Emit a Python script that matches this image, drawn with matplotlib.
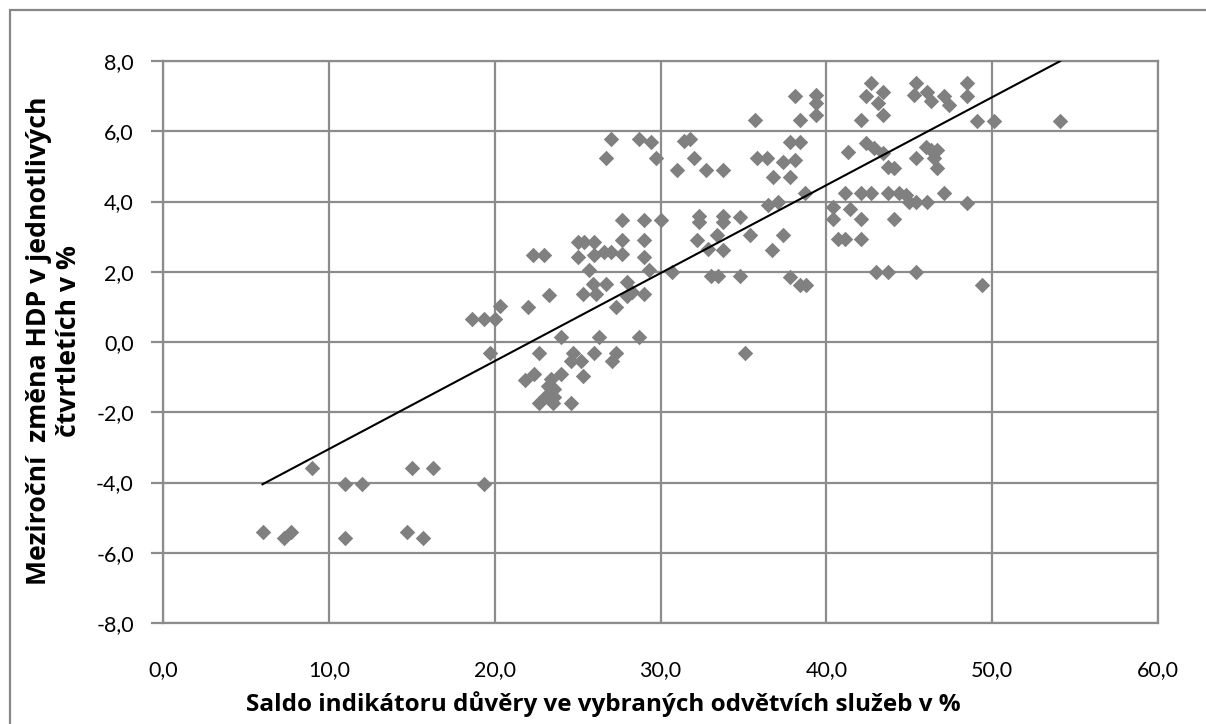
import numpy as np
import matplotlib
matplotlib.use("Agg")
import matplotlib.pyplot as plt
from matplotlib.patches import Rectangle

# saldo of confidence indicator (x, %) vs. y/y GDP change (y, %)
saldo = [
    6.0, 7.3, 7.7, 9.0, 11.0, 12.0, 11.0, 14.7, 15.7, 15.0, 16.3, 19.35,
    18.65, 19.35, 20.0, 20.3, 22.0, 19.7, 22.7, 21.8, 22.35, 24.0, 23.4, 23.2,
    23.6, 23.1, 23.6, 22.7, 23.5, 24.6, 25.3, 24.0, 26.3, 28.7, 24.7, 24.6,
    25.2, 26.0, 27.3, 27.1, 35.1,
    22.3, 23.0, 23.3, 25.0, 25.4, 26.0, 25.0, 26.0, 25.7, 25.9, 26.7, 25.3,
    26.1, 27.3, 28.0, 28.3, 29.0, 28.0, 26.6, 27.0, 27.7, 27.7, 29.0, 29.0,
    29.3, 30.7, 27.7, 29.0, 30.0,
    26.7, 27.0, 28.7, 29.4, 29.7, 31.0, 31.4, 31.8, 32.0, 32.75, 33.75, 35.8,
    36.4,
    32.3, 32.3, 33.75, 33.75, 34.8, 35.4, 32.2, 32.85, 33.4, 33.75, 33.05,
    33.45, 34.8, 37.4, 36.7, 36.5, 37.1, 38.7, 37.8, 38.4, 38.8,
    35.7, 38.1, 39.4, 39.4, 39.4, 38.4, 37.8, 38.4, 37.4, 38.1, 36.8, 37.8,
    40.4, 40.4, 41.4, 42.1, 44.1, 40.7, 41.1, 42.1, 43.0, 43.7, 45.4, 49.4,
    41.1, 42.1, 42.7, 43.7, 44.4, 44.8, 45.0, 45.4, 46.1, 47.1, 48.5,
    41.3, 42.4, 42.9, 43.4, 43.7, 44.1, 45.4, 46.0, 46.3, 46.7, 46.5, 46.7,
    42.7, 43.4, 42.4, 43.1, 43.4, 42.1, 45.4, 45.3, 46.1, 46.3, 47.1, 47.4,
    48.5, 48.5, 49.1, 50.1, 54.1,
]
hdp = [
    -5.4, -5.58, -5.4, -3.6, -4.05, -4.05, -5.58, -5.4, -5.58, -3.6, -3.6, -4.05,
    0.66, 0.66, 0.66, 1.03, 1.0, -0.3, -0.3, -1.08, -0.92, -0.92, -1.06, -1.25,
    -1.35, -1.53, -1.57, -1.75, -1.75, -1.75, -0.96, 0.13, 0.13, 0.13, -0.3, -0.53,
    -0.53, -0.3, -0.3, -0.53, -0.3,
    2.47, 2.47, 1.35, 2.85, 2.85, 2.85, 2.42, 2.47, 2.04, 1.66, 1.66, 1.37,
    1.37, 1.0, 1.32, 1.42, 1.37, 1.7, 2.56, 2.56, 2.51, 2.89, 2.89, 2.42,
    2.04, 1.99, 3.47, 3.47, 3.47,
    5.23, 5.78, 5.78, 5.7, 5.23, 4.9, 5.72, 5.78, 5.23, 4.9, 4.9, 5.23,
    5.23,
    3.6, 3.42, 3.6, 3.42, 3.56, 3.04, 2.89, 2.64, 3.04, 2.61, 1.87,
    1.87, 1.87, 3.04, 2.61, 3.9, 3.99, 4.23, 1.85, 1.61, 1.61,
    6.32, 6.99, 7.04, 6.8, 6.47, 6.32, 5.7, 5.7, 5.13, 5.18, 4.7, 4.7,
    3.85, 3.51, 3.8, 3.51, 3.49, 2.94, 2.94, 2.94, 1.99, 1.99, 1.99, 1.63,
    4.23, 4.23, 4.23, 4.23, 4.23, 4.18, 3.99, 3.99, 3.99, 4.23, 3.95,
    5.42, 5.66, 5.51, 5.37, 4.99, 4.94, 5.23, 5.56, 5.47, 5.47, 5.23, 4.94,
    7.38, 7.13, 6.99, 6.8, 6.47, 6.32, 7.38, 7.04, 7.13, 6.85, 6.99, 6.75,
    7.38, 6.99, 6.28, 6.28, 6.28,
]

x_ticks = [0, 10, 20, 30, 40, 50, 60]
y_ticks = [-8, -6, -4, -2, 0, 2, 4, 6, 8]

x_label = "Saldo indikátoru důvěry ve vybraných odvětvích služeb v %"
y_label = "Meziroční  změna HDP v jednotlivých\nčtvrtletích v %"

plt.rcParams['font.family'] = ['Lato', 'DejaVu Sans']

fig = plt.figure(figsize=(12.06, 7.24), dpi=100)
ax = fig.add_axes([163/1206, 1 - 623/724, (1158 - 163)/1206, (623 - 61)/724])

grid_col = '#8c8c8c'
ax.scatter(saldo, hdp, marker='D', s=62, color='#808080', linewidths=0, zorder=3)

# linear trend of the data
m, b = np.polyfit(saldo, hdp, 1)
xs = np.array([min(saldo), max(saldo)])
ax.plot(xs, m*xs + b, color='black', lw=1.5, zorder=4)

ax.set_xlim(0, 60)
ax.set_ylim(-8, 8)
ax.set_xticks(x_ticks)
ax.set_yticks(y_ticks)
ax.set_xticklabels([f"{v:.1f}".replace('.', ',') for v in x_ticks])
ax.set_yticklabels([f"{v:.1f}".replace('.', ',') for v in y_ticks])
ax.grid(True, color=grid_col, lw=1.6, zorder=0)
ax.set_axisbelow(True)
for s in ax.spines.values():
    s.set_color(grid_col)
    s.set_linewidth(1.6)
ax.tick_params(axis='y', length=9, width=1.6, color=grid_col, pad=12,
               labelsize=15.5, labelcolor='black')
ax.tick_params(axis='x', length=0, pad=27, labelsize=15.5, labelcolor='black')

lab_font = ['Open Sans', 'DejaVu Sans']
fig.text(603/1206, 1 - 704/724, x_label, ha='center', va='center',
         fontsize=17.5, fontweight='bold', family=lab_font)
fig.text(54/1206, 1 - 341/724, y_label, ha='center', va='center',
         rotation=90, fontsize=19.2, fontweight='bold', multialignment='center',
         linespacing=1.15, family=lab_font)

fig.patches.append(Rectangle((10/1206, -0.05), 1.1, 1.05 - 10/724,
                             transform=fig.transFigure, fill=False,
                             edgecolor='#878787', lw=1.6))

fig.savefig("out.png", dpi=100)
